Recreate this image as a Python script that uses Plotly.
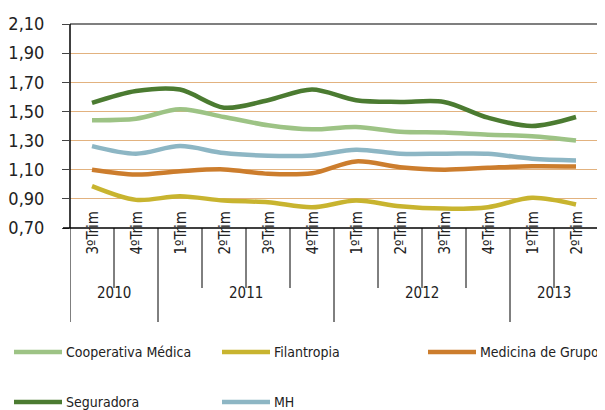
import plotly.graph_objects as go

quarters = ["3ºTrim", "4ºTrim", "1ºTrim", "2ºTrim", "3ºTrim", "4ºTrim",
            "1ºTrim", "2ºTrim", "3ºTrim", "4ºTrim", "1ºTrim", "2ºTrim"]
years = ["2010", "2010", "2011", "2011", "2011", "2011",
         "2012", "2012", "2012", "2012", "2013", "2013"]
categories = [f"{q} {y}" for q, y in zip(quarters, years)]

series_names = ["Cooperativa Médica", "Filantropia", "Medicina de Grupo", "Seguradora", "MH"]
cooperativa = [1.44, 1.45, 1.515, 1.462, 1.405, 1.377, 1.393, 1.36, 1.355, 1.34, 1.33, 1.30]
filantropia = [0.987, 0.893, 0.918, 0.888, 0.877, 0.842, 0.888, 0.849, 0.833, 0.843, 0.907, 0.861]
medicina = [1.10, 1.067, 1.09, 1.102, 1.072, 1.076, 1.157, 1.117, 1.10, 1.113, 1.124, 1.122]
seguradora = [1.558, 1.64, 1.65, 1.526, 1.577, 1.65, 1.577, 1.565, 1.565, 1.457, 1.40, 1.462]
mh = [1.262, 1.21, 1.262, 1.214, 1.196, 1.198, 1.237, 1.21, 1.21, 1.21, 1.175, 1.164]
colors = ["#9DC385", "#C8B42F", "#CC7D2D", "#4B7B31", "#8DB6C4"]

year_labels = ["2010", "2011", "2012", "2013"]

FONT = "Liberation Sans Narrow, DejaVu Sans Condensed, Arial Narrow, sans-serif"

fig = go.Figure()
for name, vals, col in zip(series_names, [cooperativa, filantropia, medicina, seguradora, mh], colors):
    fig.add_trace(go.Scatter(x=categories, y=vals, mode="lines", name=name,
                             line=dict(color=col, width=4.5, shape="spline", smoothing=0.9),
                             showlegend=False))

# page is offset by the 8px body margin; work in page pixels
OFF = 8
TOP, BOT, LEFT, RIGHT = 24, 228, 70, 598
PH = float(BOT - TOP)
PW = float(RIGHT - LEFT)
def py(p):
    return (BOT - p) / PH
def px(p):
    return (p - LEFT) / PW

shapes = []
annotations = []
shapes.append(dict(type="line", xref="paper", yref="paper", x0=0, x1=1, y0=1, y1=1,
                   line=dict(color="#7f7f7f", width=2)))
shapes.append(dict(type="line", xref="paper", yref="paper", x0=1, x1=1, y0=0, y1=1,
                   line=dict(color="#7f7f7f", width=2)))
shapes.append(dict(type="line", xref="paper", yref="paper", x0=0, x1=0, y0=0, y1=1,
                   line=dict(color="#000000", width=1.5)))
shapes.append(dict(type="line", xref="paper", yref="paper", x0=px(63), x1=1.004, y0=0, y1=0,
                   line=dict(color="#000000", width=1.5)))

year_starts = [i for i in range(len(years)) if i == 0 or years[i] != years[i - 1]]
for i in range(len(categories) + 1):
    xpos = i - 0.5
    outer = i in year_starts
    y1 = py(322) if outer else py(288)
    shapes.append(dict(type="line", xref="x", yref="paper", x0=xpos, x1=xpos, y0=0, y1=y1,
                       line=dict(color="#000000", width=1)))

for cat, q in zip(categories, quarters):
    annotations.append(dict(x=cat, y=py(257), xref="x", yref="paper", text=q, textangle=-90,
                            showarrow=False, font=dict(family=FONT, size=15, color="#222")))

for yl in year_labels:
    idx = [i for i, y in enumerate(years) if y == yl]
    center = (idx[0] + idx[-1]) / 2.0
    annotations.append(dict(x=center, y=py(304), xref="x", yref="paper", text=yl,
                            showarrow=False, font=dict(family=FONT, size=15, color="#222")))

leg_pos = [(14, 352), (222, 352), (428, 352), (14, 402), (222, 402)]
for name, col, (lx, ly) in zip(series_names, colors, leg_pos):
    shapes.append(dict(type="line", xref="paper", yref="paper", x0=px(lx), x1=px(lx + 48),
                       y0=py(ly), y1=py(ly), line=dict(color=col, width=4.5)))
    annotations.append(dict(x=px(lx + 50), y=py(ly), xref="paper", yref="paper", text=name,
                            xanchor="left", yanchor="middle", showarrow=False,
                            font=dict(family=FONT, size=14, color="#222")))

W, H = 605 - OFF, 410 - OFF
fig.update_layout(
    width=W, height=H,
    margin=dict(l=LEFT - OFF, r=W - (RIGHT - OFF), t=TOP - OFF, b=H - (BOT - OFF), pad=0,
                autoexpand=False),
    plot_bgcolor="white", paper_bgcolor="white",
    separators=",.",
    shapes=shapes, annotations=annotations,
    font=dict(family=FONT, color="#222"),
)
fig.update_xaxes(type="category", showticklabels=False, showgrid=False, zeroline=False,
                 range=[-0.5, len(categories) - 0.5], showline=False, ticks="",
                 automargin=False)
fig.update_yaxes(range=[0.70, 2.10], tickvals=[0.7, 0.9, 1.1, 1.3, 1.5, 1.7, 1.9, 2.1],
                 tickformat=".2f", showgrid=True, gridcolor="#E2B27F", gridwidth=1,
                 zeroline=False, showline=False, ticks="outside", ticklen=7, tickcolor="#444",
                 tickfont=dict(family=FONT, size=18, color="#222"), ticklabelstandoff=14,
                 automargin=False)

fig.write_html("out.html")
